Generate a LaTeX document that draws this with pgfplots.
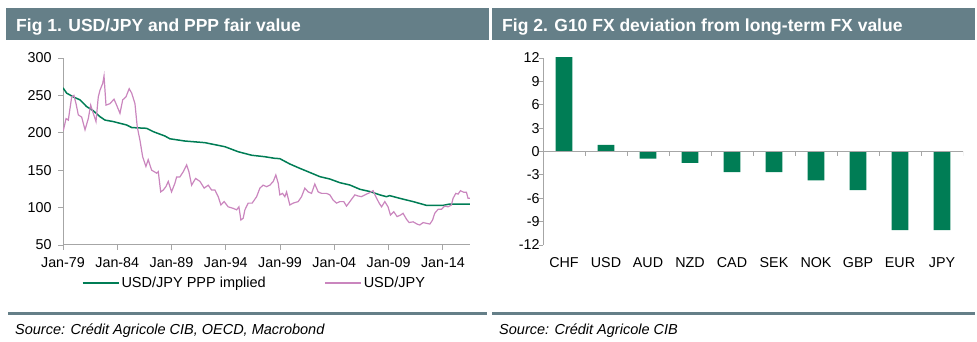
\documentclass[border=0pt]{standalone}
\usepackage{pgfplots}
\pgfplotsset{compat=1.18}
\usepackage{fontspec}
\setmainfont{Liberation Sans}
\definecolor{headbar}{HTML}{657F88}
\definecolor{pppgreen}{HTML}{007D55}
\definecolor{jpypink}{HTML}{CA86BE}
\definecolor{axgray}{HTML}{A6A6A6}
\pgfplotstableread{
year value
1979.0 260
1979.34 253
1979.95 248
1980.57 244
1981.18 235
1981.79 229.5
1982.41 221.5
1982.87 217
1983.63 215
1984.87 210.4
1985.33 207
1986.71 206
1987.32 201.5
1988.39 195.7
1988.85 192
1990.23 189
1992.08 186.8
1993.92 181.4
1995.14 174.7
1996.38 170
1997.6 168
1998.46 166
1998.98 165.4
1999.9 158.3
2000.82 152.5
2001.74 147
2002.66 141.4
2003.59 138.2
2004.51 133.3
2005.43 130.2
2006.35 124.5
2007.27 121.5
2008.19 117
2008.8 114.6
2009.1 116
2010.03 112.4
2011.26 108
2012.49 103
2014.02 103
2014.64 104.8
2016.48 104.8
}\ppptable
\pgfplotstableread{
year value
1979.03 203
1979.28 219
1979.49 217
1979.8 248
1980.01 250
1980.2 239
1980.41 224
1980.72 221
1981.03 204
1981.33 219
1981.55 237
1981.79 226
1982.04 215
1982.25 248
1982.41 257
1982.66 266
1982.78 276
1982.96 237
1983.33 239
1983.7 245
1983.94 237
1984.25 226
1984.5 244
1984.8 248
1985.1 259
1985.33 253
1985.63 239
1985.84 208
1986.09 190
1986.34 168
1986.64 155
1986.85 164
1987.17 150
1987.63 146
1987.78 148
1988.0 121
1988.24 123.5
1988.48 128
1988.7 135
1989.0 121
1989.31 132.5
1989.47 141
1989.77 141
1990.08 148
1990.39 157
1990.6 148
1990.85 130
1991.22 139
1991.62 135
1992.01 126
1992.38 130
1992.69 123.5
1993.0 123.5
1993.3 114.6
1993.55 103.5
1993.85 108
1994.22 101
1994.68 99
1995.0 97
1995.21 101
1995.39 83.4
1995.6 85.7
1995.76 97
1996.06 106
1996.43 106
1996.84 114.6
1997.14 126
1997.44 130
1997.76 128
1998.06 130
1998.37 135
1998.61 143.6
1998.83 132.5
1998.98 117
1999.23 119
1999.44 114.6
1999.6 121
1999.9 103.5
2000.21 106
2000.67 108
2000.98 114.6
2001.28 126
2001.59 121
2001.9 119
2002.2 131.5
2002.51 121
2002.82 119
2003.28 119
2003.59 117
2003.89 110
2004.2 106
2004.51 108
2004.87 108
2005.12 102
2005.43 108
2005.89 117
2006.19 115.5
2006.5 114.6
2006.96 118
2007.27 120
2007.57 122.6
2007.82 114.6
2008.13 106
2008.35 101
2008.65 108
2008.95 101
2009.17 90
2009.48 94.5
2009.78 88
2010.1 90
2010.33 92.4
2010.65 84.4
2010.89 80
2011.26 81
2011.62 78
2011.87 76.7
2012.18 80
2012.49 79
2012.8 78
2013.05 83.4
2013.25 92.4
2013.56 97.7
2013.87 97.7
2014.17 102
2014.48 101
2014.79 103.5
2014.94 112.4
2015.19 119
2015.4 118
2015.62 122.6
2015.92 120.5
2016.17 120.5
2016.32 112.4
2016.48 112.4
}\jpytable
\pgfplotstableread{
idx value
0 12.1
1 0.85
2 -0.9
3 -1.45
4 -2.65
5 -2.65
6 -3.7
7 -4.95
8 -10.1
9 -10.1
}\devtable
\begin{document}
\begin{tikzpicture}[x=1pt,y=1pt]
\useasboundingbox (0,0) rectangle (977,342);
\coordinate (LA) at (63,97);
\coordinate (RA) at (543,97);
% title bars
\fill[headbar] (6,302) rectangle (488.5,334);
\fill[headbar] (491.5,302) rectangle (975,334);
\node[anchor=base west, text=white, inner sep=0, font=\fontsize{17.5}{20}\selectfont\bfseries] at (16,310) {Fig 1. USD/JPY and PPP fair value};
\node[anchor=base west, text=white, inner sep=0, font=\fontsize{17.5}{20}\selectfont\bfseries] at (502,310) {Fig 2. G10 FX deviation from long-term FX value};
% source bars
\fill[headbar] (8,26.5) rectangle (487,29.5);
\fill[headbar] (492,26.5) rectangle (975,29.5);
\node[anchor=base west, inner sep=0, font=\fontsize{14.5}{16}\selectfont\itshape] at (15,7) {Source: Crédit Agricole CIB, OECD, Macrobond};
\node[anchor=base west, inner sep=0, font=\fontsize{14.5}{16}\selectfont\itshape] at (499,7) {Source: Crédit Agricole CIB};

\begin{axis}[
  at={(LA)}, anchor=south west,
  scale only axis, width=407pt, height=187pt,
  xmin=1979, xmax=2016.5, ymin=50, ymax=300,
  axis x line*=bottom, axis y line*=left,
  axis line style={axgray, line width=1pt, -},
  tick align=outside, major tick length=5pt,
  tick style={axgray, line width=0.8pt},
  xtick={1979,1984,1989,1994,1999,2004,2009,2014},
  xticklabels={Jan-79,Jan-84,Jan-89,Jan-94,Jan-99,Jan-04,Jan-09,Jan-14},
  ytick={50,100,150,200,250,300},
  yticklabels={50,100,150,200,250,300},
  ticklabel style={font=\fontsize{14.3}{16}\selectfont},
  x tick label style={yshift=-4pt},
  y tick label style={xshift=-3pt},
  legend columns=2,
  legend style={at={(axis description cs:0.045,-0.203)}, anchor=west, draw=none, fill=none, inner sep=0pt,
    font=\fontsize{14.5}{16}\selectfont,
    /tikz/every even column/.append style={column sep=56pt}},
  legend image code/.code={\draw[#1, line width=2pt] (0pt,0pt) -- (36pt,0pt);},
]
\addplot[pppgreen, line width=1.5pt] table[x=year, y=value] {\ppptable};
\addlegendentry{USD/JPY PPP implied}
\addplot[jpypink, line width=1.2pt] table[x=year, y=value] {\jpytable};
\addlegendentry{USD/JPY}
\end{axis}

\begin{axis}[
  at={(RA)}, anchor=south west,
  scale only axis, width=420pt, height=187pt,
  xmin=-0.5, xmax=9.5, ymin=-12, ymax=12,
  axis x line*=bottom, axis y line*=left,
  x axis line style={draw=none},
  y axis line style={axgray, line width=1pt, -},
  tick align=outside,
  ytick={-12,-9,-6,-3,0,3,6,9,12},
  yticklabels={-12,-9,-6,-3,0,3,6,9,12},
  ytick style={axgray, line width=0.8pt}, 
  xtick={0,...,9},
  xticklabels={CHF,USD,AUD,NZD,CAD,SEK,NOK,GBP,EUR,JPY},
  xtick style={draw=none},
  major tick length=4pt,
  ticklabel style={font=\fontsize{14.3}{16}\selectfont},
  x tick label style={yshift=-5pt},
  y tick label style={xshift=4pt},
  ybar, bar width=16.7pt,
]
\addplot[fill=pppgreen, draw=none] table[x=idx, y=value] {\devtable};
\draw[axgray, line width=1pt] (axis cs:-0.5,0) -- (axis cs:9.5,0);
\pgfplotsinvokeforeach{0.5,1.5,2.5,3.5,4.5,5.5,6.5,7.5,8.5,9.5}{
  \draw[axgray, line width=0.8pt] (axis cs:#1,0) -- ([yshift=-5pt]axis cs:#1,0);
}
\end{axis}
\end{tikzpicture}
\end{document}
